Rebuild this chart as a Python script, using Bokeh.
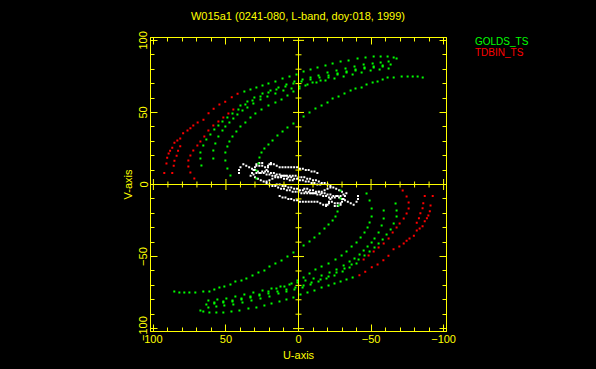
import math
from bokeh.plotting import figure
from bokeh.layouts import row, column
from bokeh.models import Range1d, LinearAxis, FixedTicker, Span, Div, CustomJSTickFormatter
from bokeh.embed import file_html
from bokeh.resources import INLINE

# ---------------- data (upper half of the uv plane) -------------
TITLE = "W015a1 (0241-080, L-band, doy:018, 1999)"
LEGEND = ["GOLDS_TS", "TDBIN_TS"]
MAJOR_TICKS = [-100, -50, 0, 50, 100]
MINOR_TICKS = [-100, -90, -80, -70, -60, -50, -40, -30, -20, -10, 0,
               10, 20, 30, 40, 50, 60, 70, 80, 90, 100]

# TDBIN_TS tracks (red)
tdbin_a_u = [92.5, 91, 90.5, 89.5, 88.5, 87, 85.5, 83.5, 81.5, 79.5, 76.5, 74.5, 72.5, 69.5,
             65.5, 62, 58.5, 54.5, 50.5, 46, 42, 87, 86, 85.5, 84, 83, 81.5]
tdbin_a_v = [8, 14.5, 18.5, 21.5, 23.5, 25.5, 29, 30.5, 32, 35.5, 37.5, 39, 41, 43,
             45, 49.5, 52.5, 55.5, 57.5, 60.5, 63, 8, 13, 16.5, 20, 23.5, 26.5]
tdbin_b_u = [71.8, 74.5, 75.9, 75.9, 74.5, 72.5, 69.7, 67.6, 64.9, 62.1, 58.7, 55.2, 51.8, 48.3, 44.9]
tdbin_b_v = [4.2, 8.3, 12.5, 16.7, 20.1, 23.6, 27.1, 29.8, 33.3, 37.5, 40.9, 43.7, 46.5, 49.3, 52.1]

# GOLDS_TS tracks (green)
golds_a_u = [37.3, 33.1, 29.0, 24.8, 20.7, 15.9, 11.0, 6.2, 1.4, -3.5, -8.3, -13.1, -18.6, -23.5,
             -29.0, -34.5, -40.7, -46.2, -51.8, -56.6, -61.4, -65.6, -67.6]
golds_a_v = [64.5, 65.9, 67.3, 68.7, 70.1, 71.5, 73.6, 74.9, 76.3, 78.4, 79.8, 81.2, 82.6, 84.0,
             85.4, 86.1, 87.4, 88.1, 88.8, 88.8, 88.8, 88.1, 87.4]
golds_b_u = [40.0, 35.2, 30.4, 24.8, 19.3, 13.8, 8.3, 2.8, -2.8, -8.3, -13.8, -20.0, -26.2, -32.4,
             -38.6, -44.9, -51.1, -56.6, -62.1]
golds_b_v = [54.8, 57.6, 60.4, 63.2, 65.2, 67.3, 69.4, 71.5, 72.9, 74.3, 75.6, 77.7, 79.1, 80.5,
             81.9, 83.3, 84.0, 84.7, 85.4]
golds_c_u = [66.9, 67.6, 67.6, 65.6, 63.5, 60.7, 58.0, 55.2, 52.4, 49.0, 45.5, 41.4, 36.6, 31.7,
             26.2, 20.7, 15.2, 9.0, 3.5, -2.1, -8.3, -14.5, -20.7, -26.9, -33.1, -39.3, -45.5,
             -51.8, -58.0, -63.5]
golds_c_v = [13.2, 18.0, 22.2, 27.1, 31.2, 34.7, 38.2, 41.0, 43.7, 46.5, 49.3, 52.1, 55.5, 58.3,
             61.1, 63.8, 65.9, 68.0, 70.1, 71.5, 72.9, 74.3, 75.6, 77.0, 78.4, 79.8, 81.2,
             81.9, 82.6, 83.3]
golds_d_u = [58.7, 58.7, 57.3, 55.2, 52.4, 50.4, 47.6, 44.9, 42.1, 38.6, 35.2, 31.1, 26.2, 21.4,
             15.9, 10.4, 4.8, -0.7, -6.2, -12.4, -18.6, -24.8, -31.1, -37.3, -43.5, -49.7,
             -55.9, -62.1]
golds_d_v = [18.0, 23.6, 28.5, 33.3, 37.5, 40.3, 43.0, 45.8, 48.6, 51.4, 53.5, 56.2, 59.0, 61.1,
             63.2, 65.2, 66.6, 68.0, 69.4, 70.8, 72.2, 73.6, 75.0, 76.3, 77.7, 79.1, 79.8, 80.5]
golds_e_u = [46.9, 49.0, 50.4, 50.4, 49.0, 47.6, 45.5, 42.8, 40.0, 36.6, 33.1, 29.7, 25.5, 20.7,
             15.9, 11.7, 7.6, 3.5, -0.7, -4.8, -9.7, -15.2, -20.7, -26.9, -33.1, -39.3, -45.5,
             -51.8, -58.0]
golds_e_v = [6.2, 11.1, 16.7, 22.2, 26.4, 29.8, 33.3, 36.8, 40.3, 43.0, 46.5, 49.3, 52.1, 54.8,
             56.9, 59.0, 61.8, 64.5, 66.6, 68.7, 70.8, 72.2, 74.3, 76.3, 77.7, 79.1, 80.5,
             81.2, 81.9]
golds_f_u = [29.0, 29.0, 27.6, 26.9, 25.5, 23.5, 20.7, 17.9, 14.5, 11.0, 7.6, 3.5, -3.5, -7.6,
             -11.7, -15.9, -20.0, -23.5, -27.6, -31.7, -35.9, -39.3, -43.5, -46.9, -51.1, -54.5,
             -58.0, -61.4, -65.6, -71.1, -75.2, -78.7, -82.1, -85.6]
golds_f_v = [4.2, 9.7, 14.6, 18.7, 22.2, 25.0, 27.8, 30.5, 34.0, 36.8, 39.6, 42.3, 47.2, 50.0,
             52.7, 54.8, 56.9, 59.7, 61.1, 63.2, 65.2, 66.6, 67.3, 69.4, 70.8, 71.5, 72.9, 74.3,
             74.3, 75.0, 75.0, 75.0, 75.0, 74.3]

# short baselines (white)
short_a_u = [41, 41, 40, 38, 36, 34, 32, 30, 28, 26, 24, 22, 20, 18, 16, 14, 12, 10, 8, 6, 4]
short_a_v = [8, 10, 12, 14, 13, 12, 11, 10, 9, 8, 8, 7, 7, 6, 6, 5, 5, 4, 4, 3, 3]
short_b_u = [29, 27, 25, 23, 21, 19, 17, 15, 13, 11, 9, 7, 5, 3, 1, -1, -3, -5, -7, -9, -11, -13]
short_b_v = [13, 13, 13, 12, 13, 14, 14, 13, 12, 12, 12, 12, 12, 12, 12, 11, 11, 10, 10, 9, 9, 8]
short_c_u = [33, 31, 29, 27, 25, 23, 21, 19, 17, 15, 13, 11, 9, 7, 5, 3, 1, -1, -3, -5, -7, -9,
             -11, -13, -15]
short_c_v = [6, 7, 8, 8, 9, 9, 9, 8, 8, 7, 7, 6, 6, 5, 5, 4, 4, 3, 3, 2, 2, 1, 1, 0, 0]
short_d_u = [22, 20, 18, 16, 14, 12, 10, 8, 6, 4, 2, 0, -2, -4, -6, -8, -10, -12, -14, -16, -18,
             -20, -22, -24, -26, -28, -30]
short_d_v = [2, 3, 4, 5, 5, 6, 6, 6, 6, 6, 6, 5, 5, 5, 4, 4, 3, 3, 2, 1, 1, 0, -1, -2, -3, -4, -5]
short_e_u = [32, 31, 30, 29, 27, 25, 22, 21, 20, 19]
short_e_v = [8, 10, 12, 14, 15, 15, 10, 12, 14, 15]

# ---------------------------------------------------------------------------------------
YEL = "#ffff00"
FONT = "Liberation Sans"


def with_conjugate(us, vs):
    """every measured (u, v) also gives the conjugate sample (-u, -v)"""
    return list(us) + [-a for a in us], list(vs) + [-b for b in vs]


red_u, red_v = with_conjugate(tdbin_a_u + tdbin_b_u, tdbin_a_v + tdbin_b_v)
grn_u, grn_v = with_conjugate(
    golds_a_u + golds_b_u + golds_c_u + golds_d_u + golds_e_u + golds_f_u,
    golds_a_v + golds_b_v + golds_c_v + golds_d_v + golds_e_v + golds_f_v)
wht_u, wht_v = with_conjugate(
    short_a_u + short_b_u + short_c_u + short_d_u + short_e_u,
    short_a_v + short_b_v + short_c_v + short_d_v + short_e_v)

p = figure(frame_width=296, frame_height=294,
           x_range=Range1d(102, -102), y_range=Range1d(-102, 102),
           output_backend="svg", toolbar_location=None,
           min_border_left=150, min_border_right=20,
           min_border_top=12, min_border_bottom=30,
           background_fill_color="black", border_fill_color="black",
           outline_line_color=YEL, outline_line_width=1, margin=0)
p.grid.visible = False


def style_axis(ax, labels=True):
    ax.ticker = FixedTicker(ticks=MAJOR_TICKS, minor_ticks=MINOR_TICKS)
    ax.axis_line_color = YEL
    ax.major_tick_line_color = YEL
    ax.minor_tick_line_color = YEL
    ax.major_tick_in = 7
    ax.major_tick_out = 0
    ax.minor_tick_in = 4
    ax.minor_tick_out = 0
    ax.major_label_text_color = YEL
    ax.major_label_text_font = FONT
    ax.major_label_text_font_size = "11px"
    ax.major_label_standoff = 3
    ax.axis_label_text_color = YEL
    ax.axis_label_text_font = FONT
    ax.axis_label_text_font_size = "11px"
    ax.axis_label_text_font_style = "normal"
    ax.axis_label_standoff = 3
    if not labels:
        ax.formatter = CustomJSTickFormatter(code="return ''")
        ax.major_label_standoff = 0


style_axis(p.xaxis[0])
style_axis(p.yaxis[0])
p.xaxis[0].axis_label = "U-axis"
p.yaxis[0].axis_label = "V-axis"
p.yaxis[0].major_label_orientation = "vertical"

top_ax = LinearAxis()
style_axis(top_ax, labels=False)
p.add_layout(top_ax, "above")
right_ax = LinearAxis()
style_axis(right_ax, labels=False)
p.add_layout(right_ax, "right")

# axes through the origin
p.add_layout(Span(location=0, dimension="height", line_color=YEL, line_width=1))
p.add_layout(Span(location=0, dimension="width", line_color=YEL, line_width=1))
cross_major = [t for t in MAJOR_TICKS if t != 0]
cross_minor = [t for t in MINOR_TICKS if t not in MAJOR_TICKS]
p.scatter(cross_major, [0] * len(cross_major), marker="dash", size=11, angle=math.pi / 2,
          line_color=YEL, line_width=1)
p.scatter(cross_minor, [0] * len(cross_minor), marker="dash", size=6, angle=math.pi / 2,
          line_color=YEL, line_width=1)
p.scatter([0] * len(cross_major), cross_major, marker="dash", size=11,
          line_color=YEL, line_width=1)
p.scatter([0] * len(cross_minor), cross_minor, marker="dash", size=6,
          line_color=YEL, line_width=1)

# samples
p.scatter(wht_u, wht_v, marker="square", size=2, fill_color="#ffffff", line_color=None)
p.scatter(grn_u, grn_v, marker="square", size=2, fill_color="#00ff00", line_color=None)
p.scatter(red_u, red_v, marker="square", size=2, fill_color="#ff0000", line_color=None)

# title above the plot
title_div = Div(
    text=("<div style=\"font-family:'Liberation Sans',sans-serif;font-size:11px;"
          "line-height:12px;padding-top:10px;color:#ffff00;text-align:center;"
          "width:596px;\">%s</div>" % TITLE),
    width=596, height=25, margin=0, styles={"background-color": "#000000"})

# legend: coloured station names to the right of the plot
legend_html = (
    "<div style=\"font-family:'Liberation Sans',sans-serif;font-size:10px;line-height:11px;"
    "padding:11px 0 0 9px;\">"
    "<div style=\"color:#00ff00;\">%s</div>"
    "<div style=\"color:#ff0000;\">%s</div></div>" % (LEGEND[0], LEGEND[1]))
legend_div = Div(text=legend_html, width=110, height=100, margin=0,
                 styles={"background-color": "#000000"})

layout = column(title_div, row(p, legend_div, spacing=0, margin=0), spacing=0, margin=0,
                styles={"background-color": "#000000"})

open("out.html", "w").write(file_html(layout, INLINE).replace(
    "<head>", "<head><style>html,body{background:#000000;}</style>", 1))
